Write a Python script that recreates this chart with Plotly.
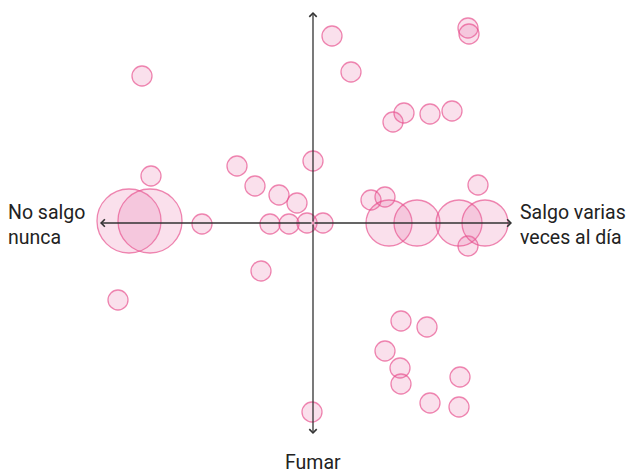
import plotly.graph_objects as go

# Bubble positions (relative to axis origin, y up) and sizes (diameter, px)
x_vals = [-171, -162, -76, 0, -58, -34, -16, -111, -43, -24, -6, 10, -52, -195,
          19, 38, 155, 156, 80, 91, 117, 139, 58, 72, 165, 155,
          88, 114, 72, 87, 88, 147, 117, 146, -1,
          -184, -163, 76, 104, 146, 172]
y_vals = [147, 47, 57, 62, 37, 28, 20, -1, -1, -1, 0, 0, -48, -77,
          187, 151, 195, 189, 101, 110, 109, 112, 23, 26, 38, -23,
          -98, -104, -128, -145, -161, -154, -180, -184, -189,
          2, 2, 0, 0, 0, 0]
sizes = [20] * 35 + [64, 64, 46, 46, 46, 46]

left_label = "No salgo<br>nunca"
right_label = "Salgo varias<br>veces al día"
bottom_label = "Fumar"

fig = go.Figure()

fig.add_trace(go.Scatter(
    x=x_vals, y=y_vals, mode="markers",
    marker=dict(size=sizes, sizemode="diameter",
                color="rgba(232,110,165,0.3)",
                line=dict(color="rgb(232,80,142)", width=1.3)),
    hoverinfo="skip", showlegend=False,
))

axis_col = "#333333"
arrows = [(-213, 0), (199, 0), (0, 211), (0, -211)]
for ex, ey in arrows:
    fig.add_annotation(x=ex, y=ey, ax=0, ay=0, axref="x", ayref="y",
                       xref="x", yref="y", showarrow=True, arrowhead=4,
                       arrowsize=1.1, arrowwidth=1.3, arrowcolor=axis_col, text="")

font = dict(family="Roboto, Arial, sans-serif", size=19.5, color="#222222")
fig.add_annotation(x=-307, y=-2, xref="x", yref="y", text=left_label, showarrow=False,
                   xanchor="left", yanchor="middle", align="left", font=font)
fig.add_annotation(x=205, y=-2, xref="x", yref="y", text=right_label, showarrow=False,
                   xanchor="left", yanchor="middle", align="left", font=font)
fig.add_annotation(x=0, y=-239, xref="x", yref="y", text=bottom_label, showarrow=False,
                   xanchor="center", yanchor="middle", font=font)

fig.update_layout(
    width=630, height=474, margin=dict(l=0, r=0, t=0, b=0),
    paper_bgcolor="white", plot_bgcolor="white",
    xaxis=dict(range=[-313, 317], visible=False, fixedrange=True),
    yaxis=dict(range=[-251, 223], visible=False, fixedrange=True),
)

fig.write_html("out.html", config={"displayModeBar": False},
               post_script="document.body.style.margin='0';document.body.style.overflow='hidden';")
